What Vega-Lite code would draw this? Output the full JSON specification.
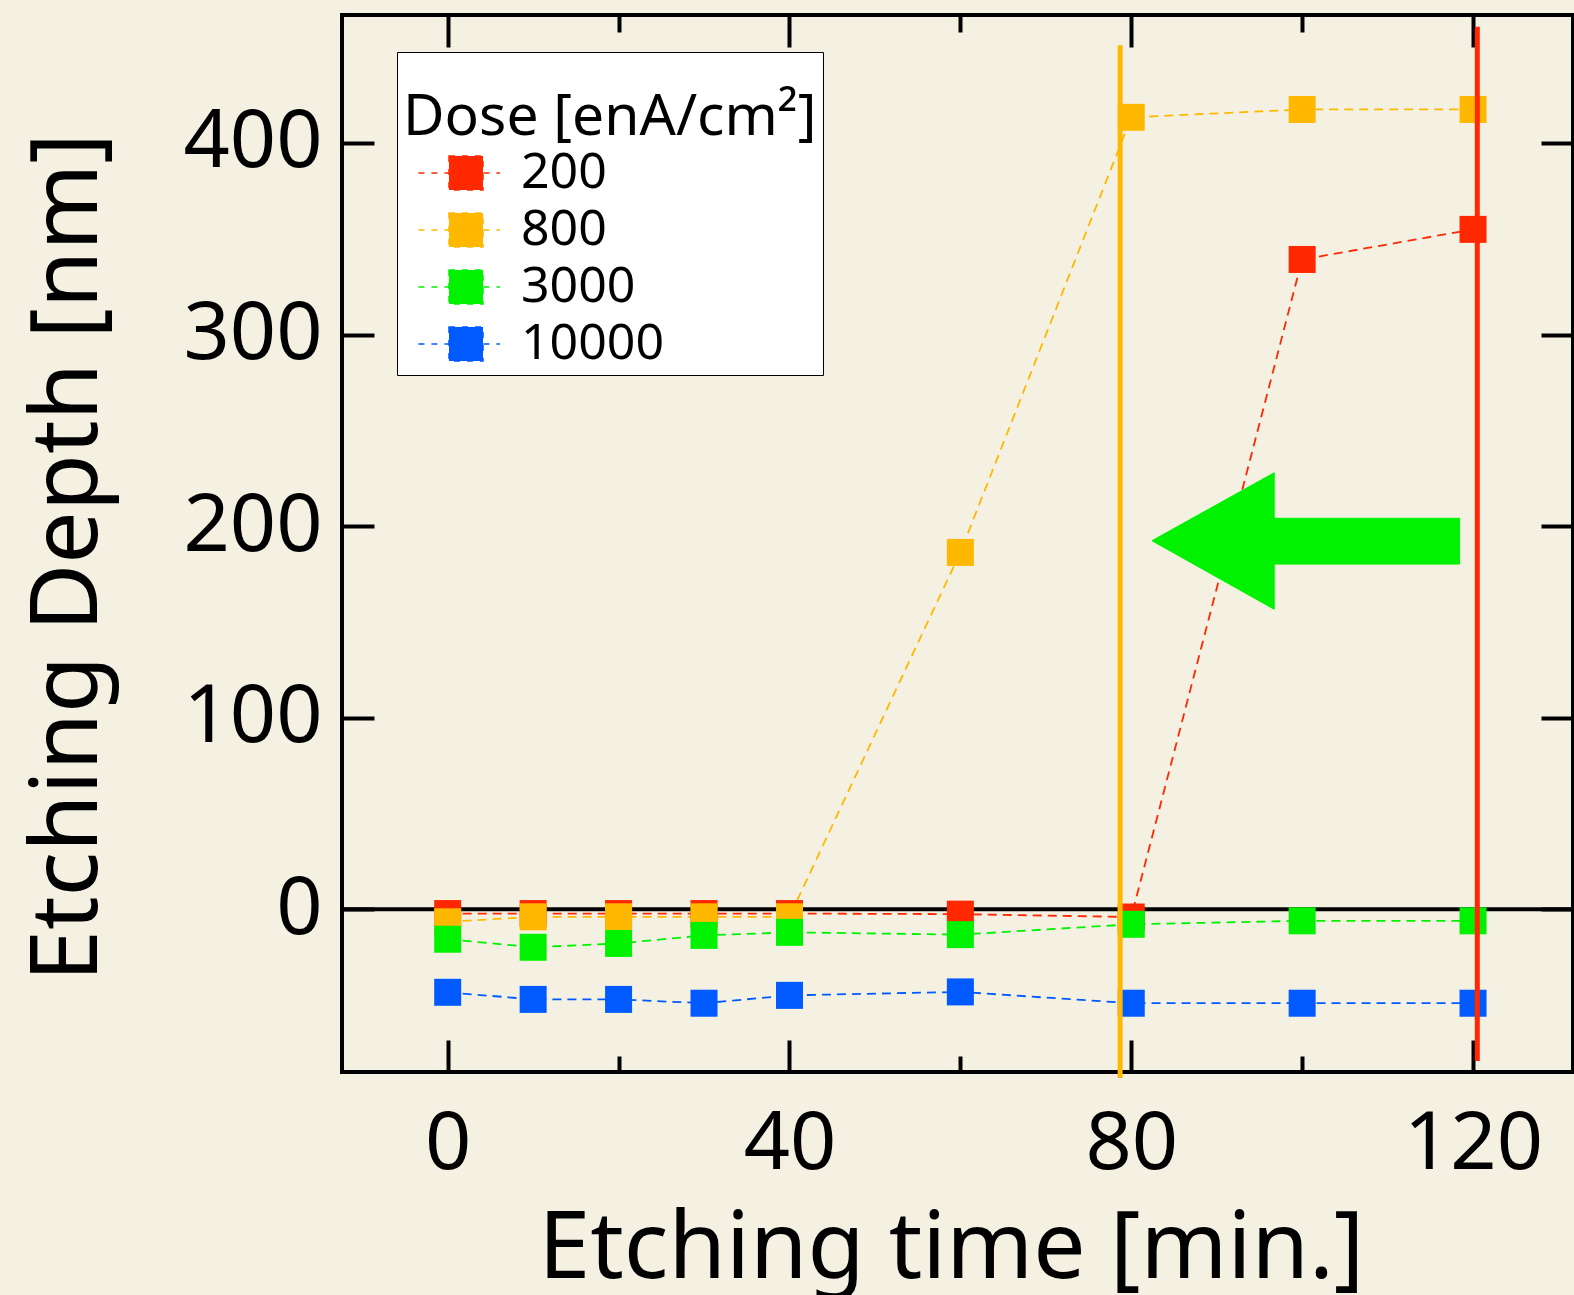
{
  "$schema": "https://vega.github.io/schema/vega-lite/v6.json",
  "width": 1231,
  "height": 1057,
  "autosize": {"type": "none"},
  "padding": {"left": 342, "top": 15, "right": 1, "bottom": 223},
  "background": "#f4f1e3",
  "config": {
    "font": "Noto Sans",
    "view": {"stroke": "black", "strokeWidth": 4},
    "axis": {"domain": false, "grid": false, "tickColor": "black", "tickWidth": 4, "labelColor": "black", "titleColor": "black", "titleFontWeight": "normal", "labelFlush": false, "labelOverlap": false}
  },
  "resolve": {"axis": {"x": "independent", "y": "independent"}},
  "datasets": {
    "series": [
      {"t": 0, "depth": -2.2, "dose": "200"},
      {"t": 10, "depth": -2.2, "dose": "200"},
      {"t": 20, "depth": -2.2, "dose": "200"},
      {"t": 30, "depth": -2.2, "dose": "200"},
      {"t": 40, "depth": -2.2, "dose": "200"},
      {"t": 60, "depth": -2.5, "dose": "200"},
      {"t": 80, "depth": -4, "dose": "200"},
      {"t": 100, "depth": 339.2, "dose": "200"},
      {"t": 120, "depth": 354.9, "dose": "200"},
      {"t": 0, "depth": -6.5, "dose": "800"},
      {"t": 10, "depth": -3.9, "dose": "800"},
      {"t": 20, "depth": -3.9, "dose": "800"},
      {"t": 30, "depth": -3.9, "dose": "800"},
      {"t": 40, "depth": -3.9, "dose": "800"},
      {"t": 60, "depth": 186.3, "dose": "800"},
      {"t": 80, "depth": 413.4, "dose": "800"},
      {"t": 100, "depth": 417.5, "dose": "800"},
      {"t": 120, "depth": 417.5, "dose": "800"},
      {"t": 0, "depth": -15.6, "dose": "3000"},
      {"t": 10, "depth": -19.8, "dose": "3000"},
      {"t": 20, "depth": -17.8, "dose": "3000"},
      {"t": 30, "depth": -13.6, "dose": "3000"},
      {"t": 40, "depth": -12, "dose": "3000"},
      {"t": 60, "depth": -13.2, "dose": "3000"},
      {"t": 80, "depth": -7.8, "dose": "3000"},
      {"t": 100, "depth": -6, "dose": "3000"},
      {"t": 120, "depth": -6, "dose": "3000"},
      {"t": 0, "depth": -43.3, "dose": "10000"},
      {"t": 10, "depth": -47, "dose": "10000"},
      {"t": 20, "depth": -47, "dose": "10000"},
      {"t": 30, "depth": -49, "dose": "10000"},
      {"t": 40, "depth": -44.9, "dose": "10000"},
      {"t": 60, "depth": -43.1, "dose": "10000"},
      {"t": 80, "depth": -49, "dose": "10000"},
      {"t": 100, "depth": -49, "dose": "10000"},
      {"t": 120, "depth": -49, "dose": "10000"}
    ],
    "arrow": [
      {"i": 1, "t": 82.42, "depth": 192.4},
      {"i": 2, "t": 96.73, "depth": 227.9},
      {"i": 3, "t": 96.73, "depth": 204.1},
      {"i": 4, "t": 118.43, "depth": 204.1},
      {"i": 5, "t": 118.43, "depth": 180.2},
      {"i": 6, "t": 96.73, "depth": 180.2},
      {"i": 7, "t": 96.73, "depth": 156.6},
      {"i": 8, "t": 82.42, "depth": 192.4}
    ]
  },
  "layer": [
    {
      "data": {"values": [{"v": 0}]},
      "mark": {"type": "rule", "color": "black", "strokeWidth": 4},
      "encoding": {
        "y": {"field": "v", "type": "quantitative", "axis": null}
      }
    },
    {
      "data": {"name": "series"},
      "mark": {"type": "line", "strokeWidth": 1.8, "strokeDash": [9, 6]},
      "encoding": {
        "x": {"field": "t", "type": "quantitative", "scale": {"domain": [-12.37, 131.7], "nice": false, "zero": false},
          "axis": {"orient": "bottom", "values": [0, 40, 80, 120], "tickSize": -32, "labelFontSize": 81, "labelPadding": 128, "labelBaseline": "alphabetic", "title": "Etching time [min.]", "titleFontSize": 93, "titleX": 609, "titleY": 205, "titleBaseline": "alphabetic", "titleAlign": "center"}},
        "y": {"field": "depth", "type": "quantitative", "scale": {"domain": [-84.9, 466.8], "nice": false, "zero": false},
          "axis": {"orient": "left", "values": [0, 100, 200, 300, 400], "tickSize": -32, "labelFontSize": 81, "labelPadding": 52, "labelAlign": "right", "labelBaseline": "middle", "title": "Etching Depth [nm]", "titleFontSize": 93, "titleX": -246, "titleY": 542, "titleAngle": -90, "titleBaseline": "alphabetic", "titleAlign": "center"}},
        "color": {"field": "dose", "type": "nominal", "scale": {"domain": ["200", "800", "3000", "10000"], "range": ["#ff2800", "#ffb800", "#00f200", "#005aff"]}}
      }
    },
    {
      "data": {"name": "series"},
      "mark": {"type": "point", "shape": "square", "filled": true, "opacity": 1, "size": 729, "strokeWidth": 0},
      "encoding": {
        "x": {"field": "t", "type": "quantitative",
          "axis": {"orient": "top", "values": [0, 40, 80, 120], "tickSize": -32, "labels": false, "title": null}},
        "y": {"field": "depth", "type": "quantitative",
          "axis": {"orient": "right", "values": [0, 100, 200, 300, 400], "tickSize": -32, "labels": false, "title": null}},
        "color": {"field": "dose", "type": "nominal",
          "legend": {
            "orient": "none", "legendX": 55, "legendY": 37,
            "title": "Dose [enA/cm²]", "titleFontSize": 57, "titleFontWeight": "normal", "titleColor": "black", "titlePadding": 33,
            "titleLimit": 1000, "titleBaseline": "line-top", "titleLineHeight": 120,
            "labelFontSize": 50, "labelColor": "black", "labelOffset": 30, "labelLimit": 1000,
            "symbolType": "M-1,-1H1V1H-1Z M-2.8,0H2", "symbolSize": 1156, "symbolOffset": 38,
            "symbolStrokeWidth": 1.5, "symbolDash": [6, 7],
            "rowPadding": 7, "padding": 6,
            "fillColor": "white", "strokeColor": "black", "cornerRadius": 0,
            "encode": {
              "legend": {"update": {"strokeWidth": {"value": 4}}},
              "symbols": {"update": {"fill": {"scale": "color", "field": "value"}, "stroke": {"scale": "color", "field": "value"}, "opacity": {"value": 1}, "strokeDash": {"value": [6, 7]}, "strokeWidth": {"value": 1.5}}}
            }
          }}
      }
    },
    {
      "data": {"name": "arrow"},
      "mark": {"type": "line", "fill": "#00f200", "stroke": "#00f200", "strokeWidth": 1},
      "encoding": {
        "x": {"field": "t", "type": "quantitative", "axis": null},
        "y": {"field": "depth", "type": "quantitative", "axis": null},
        "order": {"field": "i", "type": "quantitative"}
      }
    },
    {
      "data": {"values": [{"t": 78.7, "lo": -88, "hi": 451}]},
      "mark": {"type": "rule", "color": "#ffb800", "strokeWidth": 5},
      "encoding": {
        "x": {"field": "t", "type": "quantitative",
          "axis": {"orient": "bottom", "values": [20, 60, 100], "tickSize": -16, "labels": false, "title": null}},
        "y": {"field": "lo", "type": "quantitative", "axis": null},
        "y2": {"field": "hi"}
      }
    },
    {
      "data": {"values": [{"t": 120.5, "lo": -79.2, "hi": 460.7}]},
      "mark": {"type": "rule", "color": "#ff2800", "strokeWidth": 5},
      "encoding": {
        "x": {"field": "t", "type": "quantitative",
          "axis": {"orient": "top", "values": [20, 60, 100], "tickSize": -17, "labels": false, "title": null}},
        "y": {"field": "lo", "type": "quantitative", "axis": null},
        "y2": {"field": "hi"}
      }
    }
  ]
}
